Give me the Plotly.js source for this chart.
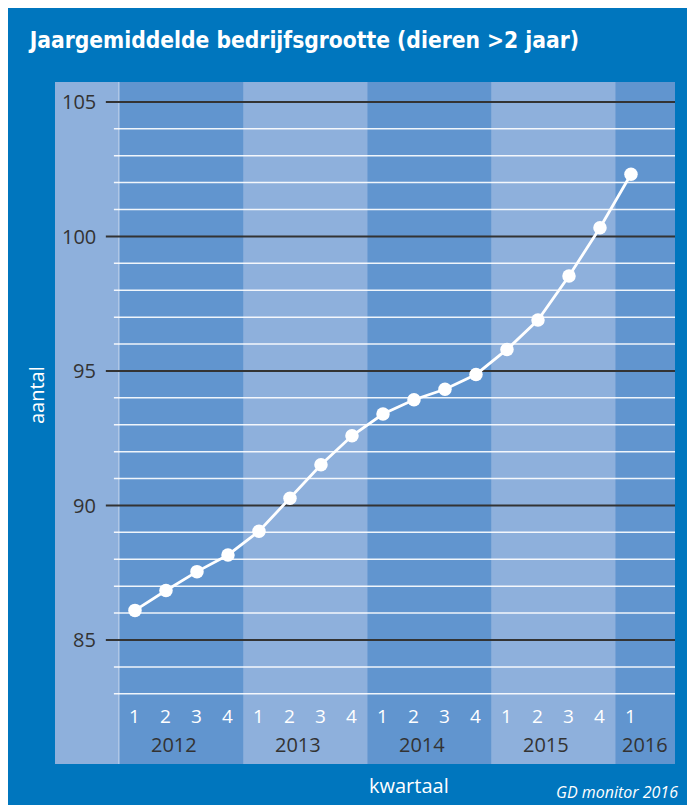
<!DOCTYPE html>
<html>
<head>
<meta charset="utf-8">
<script src="https://cdn.plot.ly/plotly-3.0.1.min.js"></script>
<style>
html,body{margin:0;padding:0;background:#ffffff;}
#chart{position:absolute;left:8px;top:8px;width:679px;height:797px;}
</style>
</head>
<body>
<div id="chart"></div>
<script>
// ---- data ----
const quarterLabels = ['1','2','3','4','1','2','3','4','1','2','3','4','1','2','3','4','1'];
const yearLabels = ['2012','2013','2014','2015','2016'];
const values = [86.1, 86.84, 87.54, 88.16, 89.04, 90.27, 91.51, 92.59, 93.4, 93.93, 94.32, 94.87, 95.8, 96.89, 98.53, 100.32, 102.31];
const yTickValues = [85, 90, 95, 100, 105];
const yTickLabels = ['85', '90', '95', '100', '105'];
const minorGrid = [83,84,86,87,88,89,91,92,93,94,96,97,98,99,101,102,103,104];

// ---- styling ----
const frameBlue = '#0076be';
const lightBand = '#8eb0dc';
const darkBand = '#6195cf';
const darkText = '#333333';
const xIdx = values.map((v, i) => i);
const xMin = -2.58, xMax = 17.42;
const yMin = 80.39, yMax = 105.74;
const yQuarter = 82.17, yYear = 81.13;

const shapes = [];
// year bands
for (let k = 0; k < yearLabels.length; k++) {
  const x0 = 4 * k - 0.5;
  const x1 = Math.min(4 * k + 3.5, xMax);
  shapes.push({type:'rect', layer:'below', xref:'x', yref:'paper', x0:x0, x1:x1, y0:0, y1:1,
    fillcolor: k % 2 === 0 ? darkBand : lightBand, line:{width:0}});
}
// separator line
shapes.push({type:'line', layer:'below', xref:'x', yref:'paper', x0:-0.52, x1:-0.52, y0:0, y1:1,
  line:{color:'rgba(255,255,255,0.45)', width:1}});
// minor gridlines
minorGrid.forEach(v => shapes.push({type:'line', layer:'below', xref:'x', yref:'y', x0:-0.68, x1:xMax, y0:v, y1:v,
  line:{color:'rgba(255,255,255,0.9)', width:1.5}}));
// major gridlines
yTickValues.forEach(v => shapes.push({type:'line', layer:'below', xref:'x', yref:'y', x0:-0.94, x1:xMax, y0:v, y1:v,
  line:{color:'#333333', width:2}}));

const annotations = [];
yTickValues.forEach((v, i) => annotations.push({xref:'x', yref:'y', x:-1.2, y:v, text:yTickLabels[i],
  showarrow:false, xanchor:'right', yanchor:'middle', font:{family:'Open Sans', size:20, color:darkText}}));
quarterLabels.forEach((q, i) => annotations.push({xref:'x', yref:'y', x:i, y:yQuarter, text:q,
  showarrow:false, xanchor:'center', yanchor:'middle', font:{family:'Open Sans', size:19, color:'#ffffff'}}));
const yearX = [1.27, 5.27, 9.27, 13.27, 16.45];
yearLabels.forEach((y, k) => annotations.push({xref:'x', yref:'y', x:yearX[k], y:yYear, text:y,
  showarrow:false, xanchor:'center', yanchor:'middle', font:{family:'Open Sans', size:20, color:darkText}}));
annotations.push({xref:'paper', yref:'paper', x:-0.0306, y:0.541, text:'aantal', textangle:-90,
  showarrow:false, xanchor:'center', yanchor:'middle', font:{family:'Open Sans', size:20, color:'#ffffff'}});
annotations.push({xref:'paper', yref:'paper', x:0.571, y:-0.031, text:'kwartaal',
  showarrow:false, xanchor:'center', yanchor:'middle', font:{family:'Open Sans', size:20, color:'#ffffff'}});
annotations.push({xref:'paper', yref:'paper', x:1.008, y:-0.041, text:'<i>GD monitor 2016</i>',
  showarrow:false, xanchor:'right', yanchor:'middle', font:{family:'Open Sans', size:16, color:'#ffffff'}});

const trace = {
  x: xIdx, y: values, type:'scatter', mode:'lines+markers',
  line:{color:'#ffffff', width:2.8},
  marker:{color:'#ffffff', size:13.5},
  hoverinfo:'skip'
};

const layout = {
  width:679, height:797,
  margin:{l:47, r:12, t:74, b:41, pad:0},
  paper_bgcolor: frameBlue,
  plot_bgcolor: lightBand,
  showlegend:false,
  title:{text:'Jaargemiddelde bedrijfsgrootte (dieren >2 jaar)', xref:'container', yref:'container',
    x:0.032, xanchor:'left', y:0.96, yanchor:'middle',
    font:{family:'DejaVu Sans Condensed', size:22.6, color:'#ffffff', weight:'bold'}},
  xaxis:{range:[xMin, xMax], showgrid:false, zeroline:false, showticklabels:false, ticks:'', showline:false, fixedrange:true},
  yaxis:{range:[yMin, yMax], showgrid:false, zeroline:false, showticklabels:false, ticks:'', showline:false, fixedrange:true},
  shapes: shapes,
  annotations: annotations
};

Plotly.newPlot('chart', [trace], layout, {displayModeBar:false, staticPlot:true});
</script>
</body>
</html>
